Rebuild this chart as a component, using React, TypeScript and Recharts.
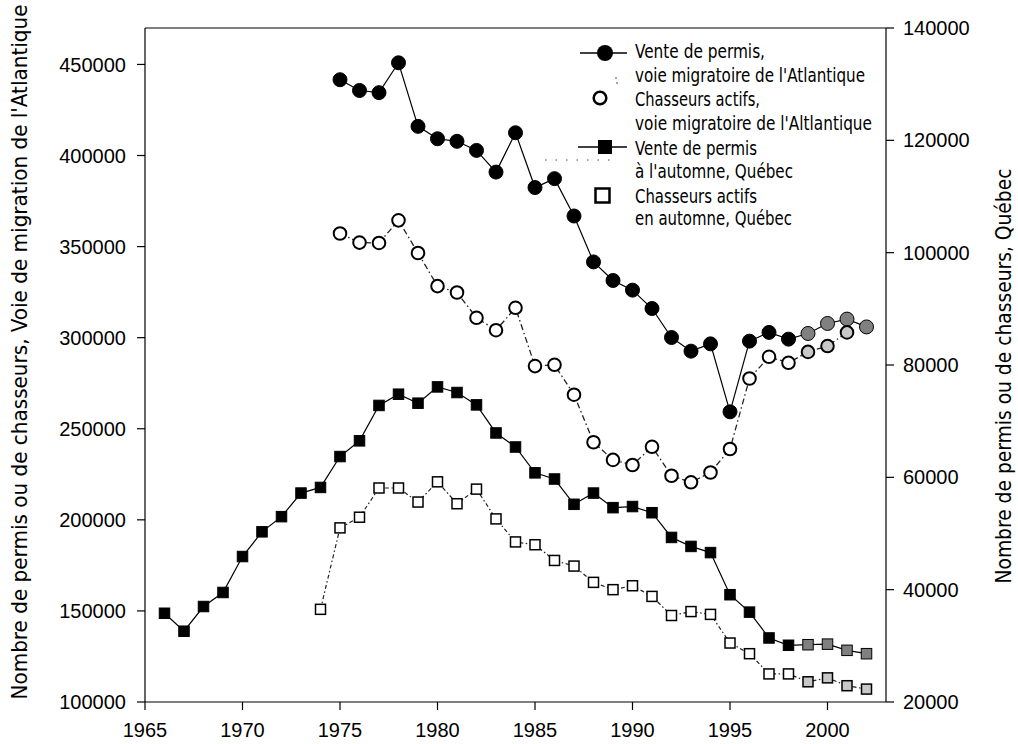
import React from 'react';
import { ComposedChart, Line, XAxis, YAxis, ReferenceLine, Legend, Label } from 'recharts';

const years = [
  1966, 1967, 1968, 1969, 1970, 1971, 1972, 1973, 1974, 1975, 1976, 1977, 1978,
  1979, 1980, 1981, 1982, 1983, 1984, 1985, 1986, 1987, 1988, 1989, 1990, 1991,
  1992, 1993, 1994, 1995, 1996, 1997, 1998, 1999, 2000, 2001, 2002,
];

// Vente de permis, voie migratoire de l'Atlantique (1975-2002)
const atlanticSales = [
  null, null, null, null, null, null, null, null, null,
  441600, 435700, 434500, 450900, 416000, 409200, 407800, 402800, 390900, 412500,
  382400, 387300, 366800, 341600, 331400, 326100, 316000, 300100, 292600, 296600,
  259300, 298100, 302900, 299200, 302300, 307800, 310200, 305900,
];

// Chasseurs actifs, voie migratoire de l'Atlantique (1975-2001)
const atlanticHunters = [
  null, null, null, null, null, null, null, null, null,
  357200, 352200, 352000, 364400, 346500, 328300, 324800, 310900, 304100, 316400,
  284400, 285100, 268700, 242600, 232900, 230100, 240100, 224200, 220600, 226000,
  238900, 277600, 289500, 286200, 292200, 295400, 302900, null,
];

// Vente de permis à l'automne, Québec (1966-2002)
const quebecSales = [
  35800, 32600, 37000, 39500, 45900, 50300, 53000, 57200, 58200, 63700, 66500,
  72800, 74800, 73200, 76100, 75100, 72900, 67900, 65400, 60800, 59700, 55200,
  57200, 54600, 54800, 53700, 49300, 47700, 46600, 39100, 36000, 31400, 30100,
  30200, 30300, 29200, 28600,
];

// Chasseurs actifs en automne, Québec (1974-2002)
const quebecHunters = [
  null, null, null, null, null, null, null, null,
  36500, 51000, 52900, 58100, 58100, 55600, 59200, 55300, 57900, 52600, 48500,
  48000, 45200, 44200, 41300, 40000, 40700, 38800, 35400, 36100, 35600, 30500,
  28600, 25000, 25000, 23600, 24300, 22900, 22300,
];

const xTicks = [1965, 1970, 1975, 1980, 1985, 1990, 1995, 2000];
const leftTicks = [100000, 150000, 200000, 250000, 300000, 350000, 400000, 450000];
const rightTicks = [20000, 40000, 60000, 80000, 100000, 120000, 140000];
const prelimFrom = 1999;

const legendLines = [
  'Vente de permis,',
  "voie migratoire de l'Atlantique",
  'Chasseurs actifs,',
  "voie migratoire de l'Altlantique",
  'Vente de permis',
  "à l'automne, Québec",
  'Chasseurs actifs',
  'en automne, Québec',
];

const leftTitle = "Nombre de permis ou de chasseurs, Voie de migration de l'Atlantique";
const rightTitle = 'Nombre de permis ou de chasseurs, Québec';

const data = years.map((year, i) => ({
  year,
  atlanticSales: atlanticSales[i],
  atlanticHunters: atlanticHunters[i],
  quebecSales: quebecSales[i],
  quebecHunters: quebecHunters[i],
}));

const FONT_TICK = '"Liberation Sans", Arial, Helvetica, sans-serif';
const FONT_COND =
  '"Liberation Sans Narrow", "DejaVu Sans Condensed", "Roboto Condensed", "Open Sans", sans-serif';

const valid = (p: any) => p && p.cx != null && p.cy != null && p.value != null && !isNaN(p.cy);

const FilledCircle = (p: any) => {
  if (!valid(p)) return <g key={`fc-${p.index}`} />;
  const pre = p.payload.year >= prelimFrom;
  return (
    <circle key={`fc-${p.index}`} cx={p.cx} cy={p.cy} r={7} fill={pre ? '#808080' : '#000'}
      stroke="#000" strokeWidth={1} />
  );
};

const OpenCircle = (p: any) => {
  if (!valid(p)) return <g key={`oc-${p.index}`} />;
  const pre = p.payload.year >= prelimFrom;
  return (
    <circle key={`oc-${p.index}`} cx={p.cx} cy={p.cy} r={6.3} fill={pre ? '#c8c8c8' : '#fff'}
      stroke="#000" strokeWidth={2} />
  );
};

const FilledSquare = (p: any) => {
  if (!valid(p)) return <g key={`fs-${p.index}`} />;
  const pre = p.payload.year >= prelimFrom;
  const s = 10.5;
  return (
    <rect key={`fs-${p.index}`} x={p.cx - s / 2} y={p.cy - s / 2} width={s} height={s}
      fill={pre ? '#808080' : '#000'} stroke="#000" strokeWidth={1} />
  );
};

const OpenSquare = (p: any) => {
  if (!valid(p)) return <g key={`os-${p.index}`} />;
  const pre = p.payload.year >= prelimFrom;
  const s = 10;
  return (
    <rect key={`os-${p.index}`} x={p.cx - s / 2} y={p.cy - s / 2} width={s} height={s}
      fill={pre ? '#c8c8c8' : '#fff'} stroke="#000" strokeWidth={1.5} />
  );
};

const legendBaselines = [38, 62, 86, 110, 135, 158, 183, 205];
const legendWidths = [130, 230, 125, 237, 122, 158, 122, 157];

const renderLegend = () => (
  <svg width={340} height={240} style={{ overflow: 'visible', display: 'block' }}>
    <line x1={20} y1={33} x2={67} y2={33} stroke="#000" strokeWidth={1.3} />
    <circle cx={45} cy={33} r={8} fill="#000" />
    <circle cx={56} cy={58} r={0.8} fill="#333" />
    <circle cx={57} cy={63} r={0.8} fill="#333" />
    <circle cx={40} cy={78} r={6.3} fill="#fff" stroke="#000" strokeWidth={2.5} />
    <line x1={18} y1={127} x2={67} y2={127} stroke="#000" strokeWidth={1.3} />
    <rect x={38} y={120} width={14} height={14} fill="#000" />
    <line x1={-15} y1={140} x2={58} y2={140} stroke="#444" strokeWidth={1} strokeDasharray="1.5 9" />
    <rect x={35.5} y={168.5} width={14} height={14} fill="#fff" stroke="#000" strokeWidth={2.5} />
    {legendLines.map((t, i) => (
      <text key={i} x={75} y={legendBaselines[i]} fontSize={19} fontFamily={FONT_COND} fill="#000"
        textLength={legendWidths[i]} lengthAdjust="spacingAndGlyphs">
        {t}
      </text>
    ))}
  </svg>
);

export default function App() {
  return (
    <div style={{ position: 'absolute', left: 0, top: 0, width: 1018, height: 744, background: '#fff' }}>
      <ComposedChart width={1018} height={744} data={data}
        margin={{ top: 28, right: 62, bottom: 12, left: 45 }}>
        <XAxis dataKey="year" type="number" domain={[1965, 2003]} ticks={xTicks}
          allowDataOverflow interval={0} tickSize={8} tickMargin={13} height={30}
          axisLine={{ stroke: '#000', strokeWidth: 1.2 }} tickLine={{ stroke: '#000', strokeWidth: 1.2 }}
          tick={{ fontSize: 20, fill: '#000', fontFamily: FONT_TICK }} />
        <YAxis yAxisId="left" type="number" domain={[100000, 470000]} ticks={leftTicks}
          allowDataOverflow interval={0} tickSize={8} tickMargin={11} width={100}
          axisLine={{ stroke: '#000', strokeWidth: 1.2 }} tickLine={{ stroke: '#000', strokeWidth: 1.2 }}
          tick={{ fontSize: 20, fill: '#000', fontFamily: FONT_TICK }}>
          <Label content={() => (
            <text x={19} y={352} transform="rotate(-90 19 352)" textAnchor="middle"
              dominantBaseline="central" fontSize={22} fontFamily={FONT_COND} fill="#000"
              textLength={695} lengthAdjust="spacingAndGlyphs">
              {leftTitle}
            </text>
          )} />
        </YAxis>
        <YAxis yAxisId="right" orientation="right" type="number" domain={[20000, 140000]} ticks={rightTicks}
          allowDataOverflow interval={0} tickSize={8} tickMargin={9} width={70}
          axisLine={{ stroke: '#000', strokeWidth: 1.2 }} tickLine={{ stroke: '#000', strokeWidth: 1.2 }}
          tick={{ fontSize: 20, fill: '#000', fontFamily: FONT_TICK }}>
          <Label content={() => (
            <text x={1003} y={376} transform="rotate(-90 1003 376)" textAnchor="middle"
              dominantBaseline="central" fontSize={22} fontFamily={FONT_COND} fill="#000"
              textLength={415} lengthAdjust="spacingAndGlyphs">
              {rightTitle}
            </text>
          )} />
        </YAxis>
        <ReferenceLine yAxisId="left" y={470000} stroke="#000" strokeWidth={1.2} ifOverflow="visible" />
        <Legend layout="vertical" align="center" verticalAlign="middle" content={renderLegend}
          wrapperStyle={{ position: 'absolute', left: 560, top: 20, width: 340, height: 240, pointerEvents: 'none' }} />
        <Line yAxisId="right" dataKey="quebecSales" name="Vente de permis à l'automne, Québec"
          stroke="#000" strokeWidth={1.2} dot={FilledSquare} activeDot={false}
          isAnimationActive={false} legendType="square" />
        <Line yAxisId="right" dataKey="quebecHunters" name="Chasseurs actifs en automne, Québec"
          stroke="#222" strokeWidth={1.2} strokeDasharray="4 2.5 1.5 2.5" dot={OpenSquare}
          activeDot={false} isAnimationActive={false} legendType="square" />
        <Line yAxisId="left" dataKey="atlanticSales" name="Vente de permis, voie migratoire de l'Atlantique"
          stroke="#000" strokeWidth={1.2} dot={FilledCircle} activeDot={false}
          isAnimationActive={false} legendType="circle" />
        <Line yAxisId="left" dataKey="atlanticHunters" name="Chasseurs actifs, voie migratoire de l'Altlantique"
          stroke="#222" strokeWidth={1.3} strokeDasharray="6 3 1.5 3" dot={OpenCircle}
          activeDot={false} isAnimationActive={false} legendType="circle" />
      </ComposedChart>
    </div>
  );
}
